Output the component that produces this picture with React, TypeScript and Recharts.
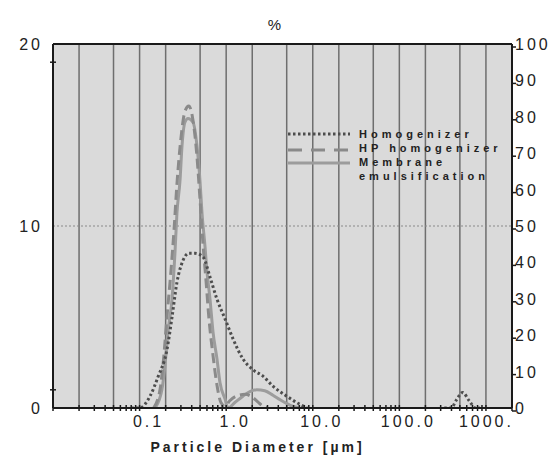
import { LineChart, Line, XAxis, YAxis, CartesianGrid, ReferenceLine, Legend } from 'recharts';

// particle size (µm) and volume (%)
const homogenizerSize = [0.08, 0.1, 0.132, 0.163, 0.207, 0.237, 0.27, 0.317, 0.37, 0.436, 0.54, 0.65, 0.78, 0.97, 1.2, 1.56, 2.04, 2.66, 3.47, 5.0, 7.1, 8.6, 20, 330, 400, 450, 540, 640, 760, 850];
const homogenizerVol = [0, 0, 0.65, 1.7, 3.2, 5.0, 6.9, 8.1, 8.5, 8.5, 8.3, 7.2, 6.0, 4.9, 3.8, 2.7, 2.1, 1.75, 1.2, 0.65, 0.2, 0, null, 0, 0, 0.4, 0.85, 0.4, 0, 0];

const hpSize = [0.145, 0.172, 0.19, 0.207, 0.23, 0.25, 0.27, 0.3, 0.334, 0.37, 0.414, 0.46, 0.498, 0.54, 0.585, 0.63, 0.7, 0.78, 0.87, 0.97, 1.1, 1.3, 1.66, 2.0, 2.3, 2.66, 3.0];
const hpVol = [0, 1.0, 2.8, 5.0, 7.5, 9.8, 12.3, 14.8, 16.3, 16.6, 15.8, 13.8, 11.5, 9.0, 7.0, 5.0, 3.0, 1.3, 0.3, 0.1, 0.4, 0.65, 0.75, 0.6, 0.35, 0.1, 0];

const membraneSize = [0.151, 0.181, 0.196, 0.213, 0.237, 0.256, 0.27, 0.293, 0.309, 0.334, 0.362, 0.414, 0.46, 0.498, 0.526, 0.569, 0.6, 0.65, 0.704, 0.783, 0.848, 0.969, 1.05, 1.26, 1.56, 1.88, 2.26, 2.79, 3.47, 4.2, 5.5, 7.1];
const membraneVol = [0, 1.0, 2.3, 4.2, 6.0, 8.5, 10.7, 12.5, 14.4, 15.7, 15.9, 15.7, 14.4, 12.5, 10.7, 8.9, 7.5, 6.0, 4.2, 2.7, 1.4, 0.5, 0, 0.3, 0.65, 0.9, 1.0, 0.95, 0.7, 0.45, 0.15, 0];

const decades = [0.01, 0.1, 1, 10, 100, 1000];
const minorSteps = [1, 2, 3, 4, 5, 6, 7, 8, 9];
const gridValues = [0.02, 0.05, 0.1, 0.2, 0.5, 1, 2, 5, 10, 20, 50, 100, 200, 500, 1000];
const xLabelValues = [0.1, 1, 10, 100, 1000];
const xLabels = ['0.1', '1.0', '10.0', '100.0', '1000.'];
const leftTicks = [0, 1, 10, 19, 20];
const leftLabels = [0, 10, 20];
const rightTicks = [0, 10, 20, 30, 40, 50, 60, 70, 80, 90, 100];

const FONT = 'Arial, "Liberation Sans", sans-serif';
const INK = '#1a1a1a';

const rows = (xs: number[], ys: (number | null)[]) => xs.map((x, i) => ({ size: x, vol: ys[i] }));

const logTicks = decades.flatMap((d) => minorSteps.map((m) => m * d)).filter((v) => v <= 2000);

const series = [
  { name: 'Membrane emulsification', data: rows(membraneSize, membraneVol), stroke: '#9c9c9c', dash: undefined },
  { name: 'HP homogenizer', data: rows(hpSize, hpVol), stroke: '#8a8a8a', dash: '10 5' },
  { name: 'Homogenizer', data: rows(homogenizerSize, homogenizerVol), stroke: '#4d4d4d', dash: '2.5 2.5' },
];

function BottomTick({ x, y, payload }: any) {
  const i = xLabelValues.indexOf(payload.value);
  const last = i === xLabels.length - 1;
  return (
    <g>
      <line x1={x} x2={x} y1={y - 3} y2={y + 3} stroke={INK} strokeWidth={1.5} />
      {i >= 0 && (
        <text x={last ? x + 28 : x + 9} y={y + 19} textAnchor={last ? 'end' : 'middle'} fontFamily={FONT} fontSize={16} letterSpacing={3} fill="#222">
          {xLabels[i]}
        </text>
      )}
    </g>
  );
}

function TopTick({ x, y, payload }: any) {
  const major = decades.includes(payload.value);
  return <line x1={x} x2={x} y1={y - 3} y2={y + (major ? 4 : 3)} stroke={INK} strokeWidth={1.5} />;
}

function LeftTick({ x, y, payload }: any) {
  const labelled = leftLabels.includes(payload.value);
  return (
    <g>
      {!labelled && <line x1={x - 3} x2={x + 3} y1={y} y2={y} stroke={INK} strokeWidth={1.5} />}
      {labelled && (
        <text x={x - 10} y={y} dy={6} textAnchor="end" fontFamily={FONT} fontSize={16} letterSpacing={3} fill="#222">
          {payload.value}
        </text>
      )}
    </g>
  );
}

function RightTick({ x, y, payload }: any) {
  return (
    <g>
      <line x1={x} x2={x + 4} y1={y + 3} y2={y + 3} stroke={INK} strokeWidth={1.5} />
      <text x={x + 3} y={y} dy={6} textAnchor="start" fontFamily={FONT} fontSize={16} letterSpacing={3} fill="#222">
        {payload.value}
      </text>
    </g>
  );
}

function LegendBox() {
  const txt = { fontFamily: FONT, fontSize: 11, fontWeight: 700, letterSpacing: 4, fill: '#222', dominantBaseline: 'central' } as const;
  return (
    <svg width={240} height={62}>
      <line x1={4} x2={66} y1={10} y2={10} stroke="#4d4d4d" strokeWidth={3} strokeDasharray="2.5 2.5" />
      <text x={75} y={10} {...txt}>Homogenizer</text>
      <line x1={4} x2={66} y1={26} y2={26} stroke="#8a8a8a" strokeWidth={3} strokeDasharray="14 9" />
      <text x={75} y={24} {...txt}>HP homogenizer</text>
      <line x1={4} x2={66} y1={39} y2={39} stroke="#9c9c9c" strokeWidth={3} />
      <text x={75} y={38} {...txt}>Membrane</text>
      <text x={75} y={52} {...txt}>emulsification</text>
    </svg>
  );
}

export default function App() {
  return (
    <div style={{ position: 'absolute', left: 0, top: 0, width: 555, height: 456, background: '#fff' }}>
      <LineChart width={555} height={456} margin={{ top: 0, right: 0, bottom: 0, left: 0 }}>
        <CartesianGrid xAxisId="b" yAxisId="l" horizontal={false} vertical={false} fill="#dadada" fillOpacity={1} />
        <XAxis
          xAxisId="b"
          dataKey="size"
          type="number"
          scale="log"
          domain={[0.01, 2000]}
          allowDataOverflow
          ticks={logTicks}
          interval={0}
          tickSize={0}
          tickMargin={0}
          tickLine={false}
          tick={<BottomTick />}
          height={48}
          axisLine={{ stroke: INK, strokeWidth: 2 }}
          label={{
            content: ({ viewBox }: any) => (
              <text x={viewBox.x + viewBox.width / 2 - 25} y={viewBox.y + 44} textAnchor="middle" fontFamily={FONT} fontSize={14} fontWeight={700} letterSpacing={3} fill="#222">
                Particle Diameter [µm]
              </text>
            ),
          }}
        />
        <XAxis
          xAxisId="t"
          orientation="top"
          type="number"
          scale="log"
          domain={[0.01, 2000]}
          allowDataOverflow
          ticks={logTicks}
          interval={0}
          tickSize={0}
          tickMargin={0}
          tickLine={false}
          tick={<TopTick />}
          height={44}
          axisLine={{ stroke: INK, strokeWidth: 2 }}
          label={{
            content: ({ viewBox }: any) => (
              <text x={viewBox.x + viewBox.width / 2 - 8} y={viewBox.y + 30} textAnchor="middle" fontFamily={FONT} fontSize={15} fill="#222">
                %
              </text>
            ),
          }}
        />
        <YAxis
          yAxisId="l"
          type="number"
          domain={[0, 20]}
          allowDataOverflow
          ticks={leftTicks}
          interval={0}
          tickSize={0}
          tickMargin={0}
          tickLine={false}
          tick={<LeftTick />}
          width={53}
          axisLine={{ stroke: INK, strokeWidth: 2 }}
        />
        <YAxis
          yAxisId="r"
          orientation="right"
          type="number"
          domain={[0, 100]}
          allowDataOverflow
          ticks={rightTicks}
          interval={0}
          tickSize={0}
          tickMargin={0}
          tickLine={false}
          tick={<RightTick />}
          width={43}
          axisLine={{ stroke: INK, strokeWidth: 2 }}
        />
        {gridValues.map((v) => (
          <ReferenceLine key={v} xAxisId="b" yAxisId="l" x={v} stroke="#6e6e6e" strokeWidth={1.5} />
        ))}
        <ReferenceLine xAxisId="b" yAxisId="l" y={10} stroke="#8a8a8a" strokeWidth={1.2} strokeDasharray="2 2" />
        {series.map((s) => (
          <Line
            key={s.name}
            xAxisId="b"
            yAxisId="l"
            data={s.data}
            dataKey="vol"
            name={s.name}
            type="monotone"
            stroke={s.stroke}
            strokeWidth={3}
            strokeDasharray={s.dash}
            dot={false}
            activeDot={false}
            isAnimationActive={false}
          />
        ))}
        <Legend
          layout="horizontal"
          verticalAlign="middle"
          align="center"
          wrapperStyle={{ position: 'absolute', left: 284, top: 124, width: 240, height: 62 }}
          content={() => <LegendBox />}
        />
      </LineChart>
    </div>
  );
}
